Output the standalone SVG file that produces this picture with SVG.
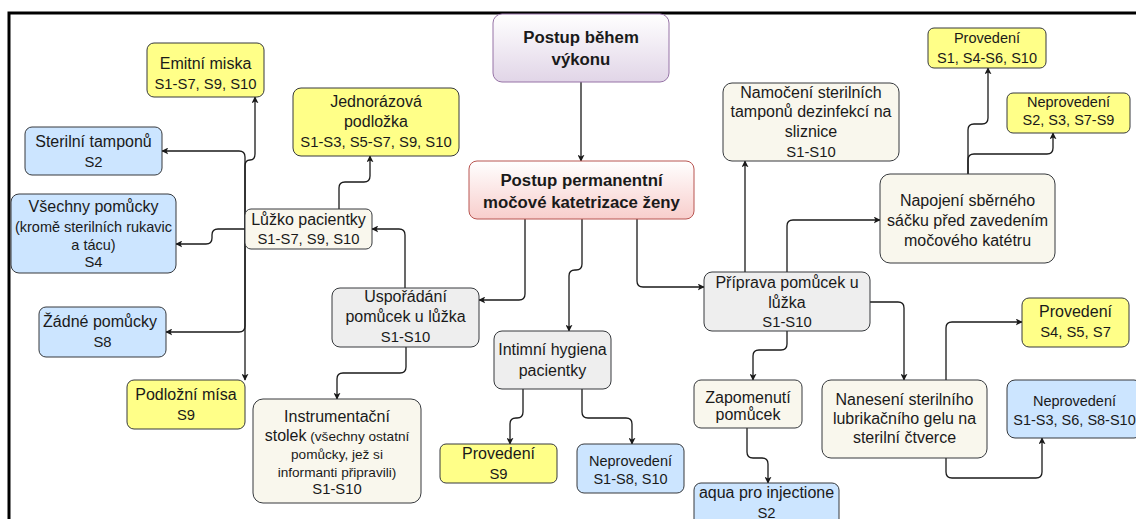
<svg xmlns="http://www.w3.org/2000/svg" width="1136" height="519" viewBox="0 0 1136 519">
<defs>
<linearGradient id="gPurple" x1="0" y1="0" x2="0" y2="1"><stop offset="0" stop-color="#ffffff"/><stop offset="1" stop-color="#e1d5e7"/></linearGradient>
<linearGradient id="gRed" x1="0" y1="0" x2="0" y2="1"><stop offset="0" stop-color="#ffffff"/><stop offset="1" stop-color="#f8cecc"/></linearGradient>
<marker id="arr" viewBox="0 0 10 10" refX="9" refY="5" markerWidth="7" markerHeight="7" markerUnits="userSpaceOnUse" orient="auto"><path d="M0,0 L10,5 L0,10 L2.5,5 Z" fill="#1a1a1a"/></marker>
<style>
rect{stroke:#36393d;stroke-width:1}
.y{fill:#ffff88}
.b{fill:#cce5ff}
.g{fill:#eeeeee}
.w{fill:#f9f7ed}
.p{fill:url(#gPurple);stroke:#9673a6}
.r{fill:url(#gRed);stroke:#b85450}
text{font-family:"Liberation Sans",Arial,sans-serif;font-size:16px;fill:#1a1a1a;text-anchor:middle}
.bold{font-weight:bold;font-size:16.8px}
.c{font-size:14.8px}
.s{font-size:14.5px}
.t{font-size:13.6px}
#connectors path{fill:none;stroke:#1a1a1a;stroke-width:1.3;marker-end:url(#arr)}
</style>
</defs>
<rect x="0" y="0" width="1136" height="519" style="fill:#ffffff;stroke:none"/>
<path d="M9,519 V13 H1136" fill="none" stroke="#000000" stroke-width="3"/>

<g id="connectors">
<path d="M581,82 V161"/>
<path d="M525,219 V294 Q525,300 519,300 H479"/>
<path d="M582,219 V264 Q582,270 576,270 H575 Q569,270 569,276 V331"/>
<path d="M637,219 V281 Q637,287 643,287 H704"/>
<path d="M405,288 V235 Q405,229 399,229 H372"/>
<path d="M339,209 V188 Q339,182 345,182 H364 Q370,182 370,176 V156"/>
<path d="M245,229 V166 Q245,160 250,160 Q255,160 255,154 V97"/>
<path d="M245,229 V157 Q245,151 239,151 H162"/>
<path d="M245,229 H218 Q212,229 212,235 V238 Q212,244 206,244 H176"/>
<path d="M245,229 V326 Q245,332 239,332 H166"/>
<path d="M245,229 V380"/>
<path d="M406,347 V367 Q406,373 400,373 H343 Q337,373 337,379 V399"/>
<path d="M523,389 V412 Q523,418 517,418 H516 Q510,418 510,424 V444"/>
<path d="M582,389 V412 Q582,418 588,418 H626 Q632,418 632,424 V444"/>
<path d="M745,272 V161"/>
<path d="M787,272 V226 Q787,220 793,220 H880"/>
<path d="M787,331 V344 Q787,350 781,350 H759 Q753,350 753,356 V380"/>
<path d="M870,302 H898 Q904,302 904,308 V380"/>
<path d="M747,428 V452 Q747,458 753,458 H762 Q768,458 768,464 V483"/>
<path d="M946,380 V328 Q946,322 952,322 H1022"/>
<path d="M946,458 V472 Q946,478 952,478 H1036 Q1042,478 1042,472 V438"/>
<path d="M968,174 V130 Q968,124 974,124 H982 Q988,124 988,118 V68"/>
<path d="M968,174 V160 Q968,154 974,154 H1047 Q1053,154 1053,148 V133"/>
</g>

<g id="n-postup-behem"><rect class="p" x="493" y="14" width="176" height="68" rx="9"/><text class="bold" x="581" y="43">Postup během</text><text class="bold" x="581" y="65">výkonu</text></g>
<g id="n-postup-perm"><rect class="r" x="469" y="161" width="225" height="58" rx="8"/><text class="bold" x="581.5" y="186">Postup permanentní</text><text class="bold" x="581.5" y="208">močové katetrizace ženy</text></g>

<g id="n-emitni"><rect class="y" x="147" y="43" width="117" height="54" rx="7"/><text x="205.5" y="69">Emitní miska</text><text class="c" x="205.5" y="89">S1-S7, S9, S10</text></g>
<g id="n-jednorazova"><rect class="y" x="293" y="88" width="166" height="68" rx="8"/><text x="376" y="107">Jednorázová</text><text x="376" y="127">podložka</text><text class="c" x="376" y="147">S1-S3, S5-S7, S9, S10</text></g>
<g id="n-sterilni"><rect class="b" x="25" y="127" width="137" height="48" rx="7"/><text x="93.5" y="147">Sterilní tamponů</text><text class="c" x="93.5" y="167">S2</text></g>
<g id="n-vsechny"><rect class="b" x="11" y="194" width="165" height="79" rx="8"/><text x="93.5" y="212">Všechny pomůcky</text><text class="s" x="93.5" y="232">(kromě sterilních rukavic</text><text class="s" x="93.5" y="250">a tácu)</text><text class="c" x="93.5" y="267">S4</text></g>
<g id="n-luzko"><rect class="w" x="245" y="209" width="127" height="40" rx="6"/><text x="308.5" y="225">Lůžko pacientky</text><text class="c" x="308.5" y="244">S1-S7, S9, S10</text></g>
<g id="n-zadne"><rect class="b" x="39" y="307" width="127" height="50" rx="7"/><text x="100" y="327">Žádné pomůcky</text><text class="c" x="102.5" y="347">S8</text></g>
<g id="n-podlozni"><rect class="y" x="127" y="380" width="118" height="49" rx="7"/><text x="186" y="400">Podložní mísa</text><text class="c" x="186" y="420">S9</text></g>
<g id="n-usporadani"><rect class="g" x="332" y="288" width="147" height="59" rx="8"/><text x="405.5" y="302">Uspořádání</text><text x="405.5" y="322">pomůcek u lůžka</text><text class="c" x="405.5" y="342">S1-S10</text></g>
<g id="n-instrumentacni"><rect class="w" x="253" y="399" width="168" height="104" rx="10"/><text x="337" y="422">Instrumentační</text><text x="337" y="441"><tspan>stolek</tspan><tspan class="t"> (všechny ostatní</tspan></text><text class="t" x="337" y="459">pomůcky, jež si</text><text class="t" x="337" y="477">informanti připravili)</text><text class="c" x="337" y="494">S1-S10</text></g>
<g id="n-intimni"><rect class="g" x="494" y="331" width="117" height="58" rx="8"/><text x="552.5" y="355">Intimní hygiena</text><text x="552.5" y="376">pacientky</text></g>
<g id="n-provedeni-s9"><rect class="y" x="440" y="444" width="117" height="39" rx="6"/><text x="498.5" y="459">Provedení</text><text class="c" x="498.5" y="479">S9</text></g>
<g id="n-neprovedeni-s1s8"><rect class="b" x="577" y="444" width="107" height="49" rx="7"/><text class="s" x="630.5" y="466">Neprovedení</text><text class="s" x="630.5" y="484">S1-S8, S10</text></g>
<g id="n-priprava"><rect class="g" x="704" y="272" width="166" height="59" rx="8"/><text x="787" y="288">Příprava pomůcek u</text><text x="787" y="308">lůžka</text><text class="c" x="787" y="327">S1-S10</text></g>
<g id="n-zapomenuti"><rect class="w" x="694" y="380" width="108" height="48" rx="7"/><text x="748" y="403">Zapomenutí</text><text x="748" y="420">pomůcek</text></g>
<g id="n-aqua"><rect class="b" x="694" y="483" width="145" height="45" rx="7"/><text x="766.5" y="498">aqua pro injectione</text><text class="c" x="766.5" y="518">S2</text></g>
<g id="n-naneseni"><rect class="w" x="822" y="380" width="165" height="78" rx="9"/><text x="904.5" y="405">Nanesení sterilního</text><text x="904.5" y="424">lubrikačního gelu na</text><text x="904.5" y="443">sterilní čtverce</text></g>
<g id="n-provedeni-s4"><rect class="y" x="1022" y="298" width="107" height="49" rx="7"/><text x="1075.5" y="317">Provedení</text><text class="c" x="1075.5" y="337">S4, S5, S7</text></g>
<g id="n-neprovedeni-s1s3"><rect class="b" x="1007" y="380" width="135" height="58" rx="8"/><text class="s" x="1074.5" y="406">Neprovedení</text><text class="s" x="1074.5" y="425">S1-S3, S6, S8-S10</text></g>
<g id="n-namoceni"><rect class="w" x="723" y="83" width="176" height="78" rx="9"/><text x="811" y="98">Namočení sterilních</text><text x="811" y="117">tamponů dezinfekcí na</text><text x="811" y="137">sliznice</text><text class="c" x="811" y="157">S1-S10</text></g>
<g id="n-napojeni"><rect class="w" x="880" y="174" width="175" height="89" rx="10"/><text x="967.5" y="205.5">Napojení sběrného</text><text x="967.5" y="225.5">sáčku před zavedením</text><text x="967.5" y="245.5">močového katétru</text></g>
<g id="n-provedeni-s1"><rect class="y" x="928" y="28" width="118" height="40" rx="6"/><text class="s" x="987" y="43">Provedení</text><text class="s" x="987" y="63">S1, S4-S6, S10</text></g>
<g id="n-neprovedeni-s2"><rect class="y" x="1007" y="93" width="123" height="40" rx="6"/><text class="s" x="1068.5" y="107">Neprovedení</text><text class="s" x="1068.5" y="125">S2, S3, S7-S9</text></g>
</svg>
